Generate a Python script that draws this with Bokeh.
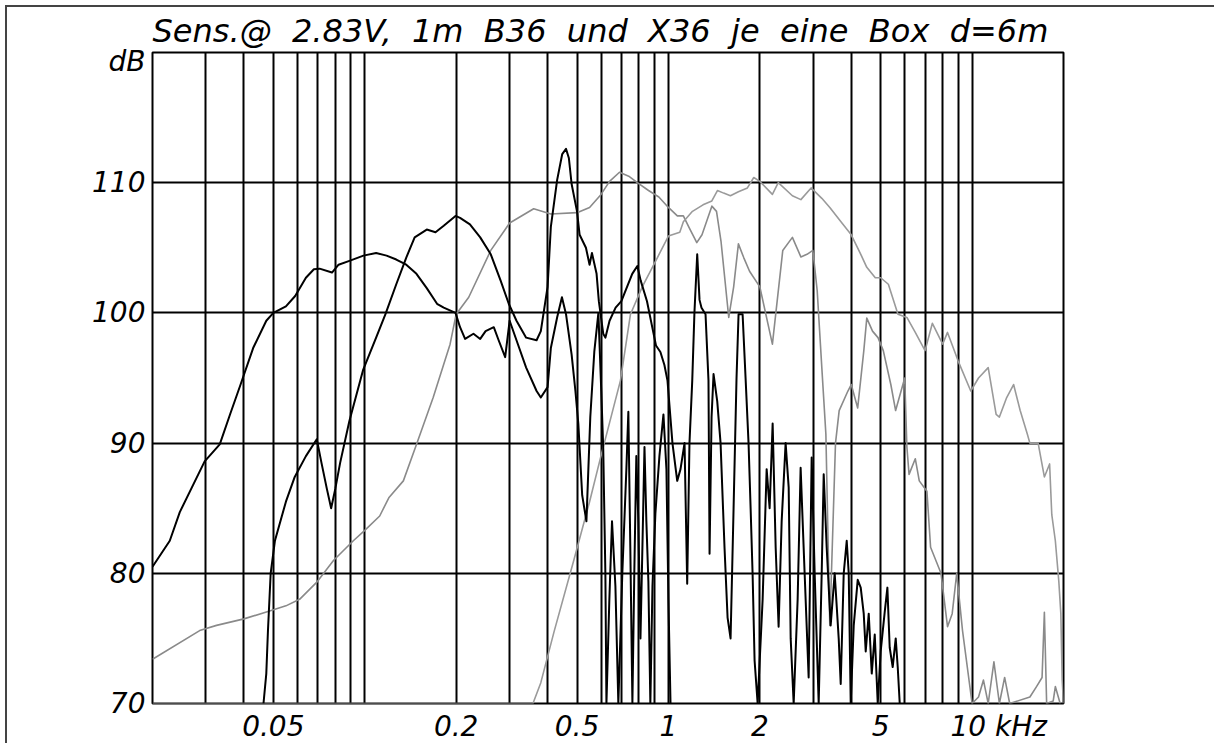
from bokeh.plotting import figure
from bokeh.models import FixedTicker, Range1d
from bokeh.embed import file_html
from bokeh.resources import INLINE

title_text = "Sens.@ 2.83V, 1m B36 und X36 je eine Box d=6m"
x_tick_values = [0.05, 0.2, 0.5, 1, 2, 5, 10]
x_tick_labels = ["0.05", "0.2", "0.5", "1", "2", "5", "10 kHz"]
y_tick_values = [70, 80, 90, 100, 110]
y_unit = "dB"
y_unit_pos = 119.3
x_grid_values = [0.03, 0.04, 0.05, 0.06, 0.07, 0.08, 0.09, 0.1,
                 0.2, 0.3, 0.4, 0.5, 0.6, 0.7, 0.8, 0.9, 1,
                 2, 3, 4, 5, 6, 7, 8, 9, 10]
y_grid_values = [80, 90, 100, 110]

# black curve 1 (bass)
w1_f = [0.020, 0.0228, 0.0246, 0.0283, 0.0297, 0.0333, 0.036, 0.039, 0.0429, 0.0474,
        0.05, 0.055, 0.059, 0.064, 0.068, 0.071, 0.078, 0.082, 0.089, 0.099,
        0.109, 0.118, 0.127, 0.137, 0.148, 0.160, 0.173, 0.182, 0.199, 0.206,
        0.214, 0.228, 0.24, 0.25, 0.266, 0.276, 0.29, 0.30, 0.316, 0.34,
        0.368, 0.38, 0.40, 0.41, 0.43, 0.446, 0.46, 0.48, 0.494,
        0.505, 0.520, 0.537, 0.553, 0.570, 0.588, 0.601, 0.610, 0.620, 0.625,
        0.639, 0.652, 0.669, 0.684, 0.705, 0.727, 0.738, 0.749, 0.761, 0.772,
        0.784, 0.796, 0.809, 0.821, 0.834, 0.846, 0.859, 0.872, 0.886, 0.906,
        0.934, 0.963, 0.985, 1.000, 1.016]
w1_db = [80.5, 82.5, 84.7, 87.6, 88.6, 89.9, 92.2, 94.5, 97.3, 99.4,
         100.0, 100.5, 101.3, 102.7, 103.35, 103.4, 103.1, 103.7, 104.0, 104.4,
         104.6, 104.4, 104.1, 103.7, 103.0, 101.9, 100.7, 100.4, 100.0, 98.9,
         98.0, 98.4, 98.0, 98.6, 98.9, 97.9, 96.6, 99.4, 97.9, 95.8,
         94.0, 93.5, 94.3, 97.3, 99.65, 101.2, 99.9, 96.8, 94.0,
         91.5, 86, 84, 92, 97, 100, 94, 89.6, 80, 70,
         78, 84, 79, 70, 80, 88, 92.4, 82, 70, 80,
         89, 84, 75, 82, 89.7, 84, 79.4, 70, 79, 84.6,
         89, 92.2, 88, 78, 70]

# black curve 2 (mid-bass)
w2_f = [0.0464, 0.0474, 0.048, 0.049, 0.0506, 0.055, 0.0588, 0.064, 0.0695, 0.072,
        0.075, 0.0775, 0.080, 0.083, 0.089, 0.0987, 0.109, 0.117, 0.127, 0.137,
        0.146, 0.16, 0.171, 0.182, 0.199, 0.206, 0.222, 0.24, 0.26, 0.28,
        0.298, 0.316, 0.34, 0.368, 0.38, 0.40, 0.41, 0.43, 0.447, 0.46,
        0.47, 0.48, 0.50, 0.51, 0.535, 0.55, 0.56, 0.58, 0.59, 0.61,
        0.62, 0.64, 0.67, 0.70, 0.76, 0.79, 0.81, 0.85, 0.89, 0.91,
        0.941, 0.970, 0.993, 1.031, 1.069, 1.096, 1.130, 1.153, 1.173, 1.198,
        1.218, 1.244, 1.266, 1.285, 1.325, 1.355, 1.366, 1.387, 1.408, 1.448,
        1.485, 1.530, 1.566, 1.602, 1.639, 1.676, 1.702, 1.755, 1.795, 1.836,
        1.865, 1.893, 1.922, 1.967, 2.043, 2.106, 2.154, 2.204, 2.255, 2.306,
        2.360, 2.432, 2.489, 2.527, 2.585, 2.664, 2.725, 2.809, 2.896, 2.963,
        3.031, 3.125, 3.197, 3.246, 3.320, 3.422, 3.528, 3.637, 3.693, 3.778,
        3.865, 3.924, 3.984, 4.076, 4.201, 4.298, 4.397, 4.464, 4.567, 4.673,
        4.780, 4.890, 5.000, 5.154, 5.261, 5.354, 5.477, 5.604, 5.690, 5.777]
w2_db = [70, 72.3, 75.6, 80, 82.5, 85.5, 87.4, 89, 90.3, 88.5,
         86.5, 85, 86.5, 88.5, 91.7, 95.6, 98.1, 99.9, 102.2, 104.25,
         105.8, 106.4, 106.2, 106.7, 107.45, 107.3, 106.8, 105.8, 104.5, 102.5,
         100.7, 99.4, 98.1, 97.9, 98.6, 102, 106.6, 110.2, 112.2, 112.6,
         111.9, 109.9, 107.8, 106, 105, 103.7, 104.6, 103, 100.9, 98.4,
         98.1, 99.4, 100.4, 100.9, 103, 103.6, 102.5, 100.9, 98.6, 97.5,
         97, 96, 94.8, 90, 87.1, 88, 90, 79.2, 90, 94.8,
         100, 104.5, 101, 100.4, 99.9, 94.8, 81.5, 92, 95.3, 93.2,
         90, 82, 76.6, 75, 85, 95, 99.9, 99.9, 95, 90,
         85, 80, 73.3, 70, 78, 88, 85, 91.5, 82, 75.9,
         84, 90, 86.6, 75, 70, 78, 88.1, 80, 72, 88.9,
         80, 70, 80, 87.6, 82, 76, 80, 75, 71.5, 80,
         82.5, 80, 70, 76, 79.5, 78.9, 76.9, 74, 76.9, 72.3,
         75.3, 70, 74, 77, 78.9, 74.3, 72.8, 75, 72.8, 70]

# grey curve (mid)
m_f = [0.020, 0.0286, 0.0325, 0.040, 0.0486, 0.055, 0.061, 0.0694, 0.079, 0.0917,
       0.10, 0.112, 0.12, 0.134, 0.148, 0.168, 0.191, 0.20, 0.22, 0.26,
       0.30, 0.36, 0.41, 0.50, 0.55, 0.60, 0.64, 0.69, 0.74, 0.79,
       0.86, 0.93, 1.0, 1.07, 1.12, 1.17, 1.24, 1.29, 1.39, 1.44,
       1.49, 1.58, 1.64, 1.70, 1.77, 1.85, 2.0, 2.2, 2.38, 2.56,
       2.73, 2.86, 2.99, 3.09, 3.2, 3.3, 3.4, 3.55, 3.65, 3.9,
       4.0, 4.2, 4.4, 4.5, 4.7, 4.9, 5.1, 5.4, 5.6, 6.0,
       6.1, 6.2, 6.5, 6.7, 7.1, 7.3, 7.9, 8.3, 8.6, 8.9,
       9.3, 10.0, 10.5, 10.9, 11.3, 11.8, 12.3, 12.8, 13.3, 15.5,
       16.3, 17.0, 17.3, 17.6, 18.5, 18.8, 19.5]
m_db = [73.4, 75.6, 76.0, 76.5, 77.1, 77.5, 78.0, 79.3, 81.0, 82.5,
        83.3, 84.4, 85.8, 87.1, 89.9, 93.5, 97.6, 99.9, 101.2, 104.8,
        106.9, 108.0, 107.6, 107.7, 108.1, 109.1, 110.1, 110.8, 110.5, 110.0,
        109.4, 108.9, 108.1, 107.45, 107.45, 106.55, 105.4, 106.0, 108.2, 107.8,
        105.5, 99.65, 102.0, 105.3, 104.25, 103.2, 102.0, 97.6, 104.8, 105.8,
        104.3, 104.5, 104.8, 101.7, 95.8, 90.7, 76, 90, 92.5, 94.0,
        94.5, 92.7, 97.1, 99.6, 98.6, 98.1, 97.1, 94.5, 92.5, 95.0,
        89.7, 87.6, 88.8, 87.1, 86.3, 82.0, 80.0, 75.9, 76.9, 80.0,
        75.6, 70.0, 70.5, 71.8, 70.0, 73.2, 70.0, 72.0, 70.0, 70.5,
        71.3, 72.0, 77.0, 70.0, 70.2, 71.3, 70.0]

# grey curve (tweeter)
t_f = [0.020, 0.358, 0.38, 0.42, 0.488, 0.55, 0.598, 0.695, 0.75, 0.82,
       0.92, 1.0, 1.09, 1.12, 1.2, 1.3, 1.39, 1.45, 1.52, 1.60,
       1.70, 1.82, 1.91, 2.0, 2.2, 2.3, 2.56, 2.73, 2.95, 3.2,
       3.4, 3.7, 4.0, 4.3, 4.5, 4.8, 5.0, 5.3, 5.7, 6.1,
       6.5, 7.0, 7.4, 8.0, 8.3, 9.0, 9.9, 10.5, 11.3, 12.0,
       12.3, 13.0, 13.7, 14.4, 15.2, 15.5, 16.5, 17.3, 18.0, 18.3,
       18.8, 19.3, 19.6, 19.8, 20.0]
t_db = [70.0, 70.0, 71.6, 75.5, 81.0, 85.5, 88.9, 94.8, 99.9, 102.0,
        104.25, 105.9, 106.2, 107.0, 107.8, 108.3, 108.6, 109.4, 109.2, 109.0,
        109.3, 109.6, 110.4, 110.1, 109.1, 110.0, 109.0, 108.7, 109.6, 108.8,
        108.1, 107.0, 106.0, 104.5, 103.5, 102.7, 102.7, 102.2, 99.9, 99.65,
        98.5, 97.1, 99.2, 97.6, 98.5, 96.3, 94.0, 95.0, 95.8, 92.2,
        92.0, 93.5, 94.5, 92.5, 90.7, 90.0, 90.0, 87.4, 88.4, 84.5,
        82.5, 79.4, 76.9, 71.8, 70.0]

FONT = "DejaVu Sans"

p = figure(width=1209, height=738, x_axis_type="log",
           x_range=Range1d(0.02, 20), y_range=Range1d(70, 120),
           output_backend="svg", toolbar_location=None,
           min_border_left=145, min_border_right=153,
           min_border_top=45, min_border_bottom=42,
           margin=(5, 0, 0, 5),
           styles={"border-top": "2px solid #444", "border-left": "2px solid #444"})

# wide word spacing as in the original print
p.title.text = title_text.replace(" ", " \u00a0")
p.title.text_font = FONT
p.title.text_font_style = "italic"
p.title.text_font_size = "32px"
p.title.text_color = "black"
p.title.align = "left"
p.title.vertical_align = "top"
p.title.offset = 0
p.title.standoff = 2

p.outline_line_color = "black"
p.outline_line_width = 2
p.background_fill_color = "white"
p.border_fill_color = "white"

p.xgrid.ticker = FixedTicker(ticks=x_grid_values)
p.ygrid.ticker = FixedTicker(ticks=y_grid_values)
for g in (p.xgrid, p.ygrid):
    g.grid_line_color = "black"
    g.grid_line_width = 2
    g.minor_grid_line_color = None

# the unit "kHz" follows the last label; non-breaking spaces keep "10" on its tick
pad = "\u00a0" * 6
p.xaxis.ticker = FixedTicker(ticks=x_tick_values)
p.xaxis.major_label_overrides = {
    v: (pad + s if s.endswith("kHz") else s) for v, s in zip(x_tick_values, x_tick_labels)}
p.yaxis.ticker = FixedTicker(ticks=y_tick_values + [y_unit_pos])
ylab = {v: str(v) for v in y_tick_values}
ylab[y_unit_pos] = y_unit
p.yaxis.major_label_overrides = ylab
for ax in (p.xaxis, p.yaxis):
    ax.axis_line_color = None
    ax.major_tick_line_color = None
    ax.minor_tick_line_color = None
    ax.major_tick_out = 0
    ax.major_label_text_font = FONT
    ax.major_label_text_font_style = "italic"
    ax.major_label_text_font_size = "28px"
    ax.major_label_text_color = "black"
p.xaxis.major_label_standoff = 6
p.yaxis.major_label_standoff = 7

p.line(m_f, m_db, line_color="#8a8a8a", line_width=1.6, line_join="round")
p.line(t_f, t_db, line_color="#9a9a9a", line_width=1.6, line_join="round")
p.line(w1_f, w1_db, line_color="black", line_width=2, line_join="round")
p.line(w2_f, w2_db, line_color="black", line_width=2, line_join="round")

open("out.html", "w").write(file_html(p, INLINE))
